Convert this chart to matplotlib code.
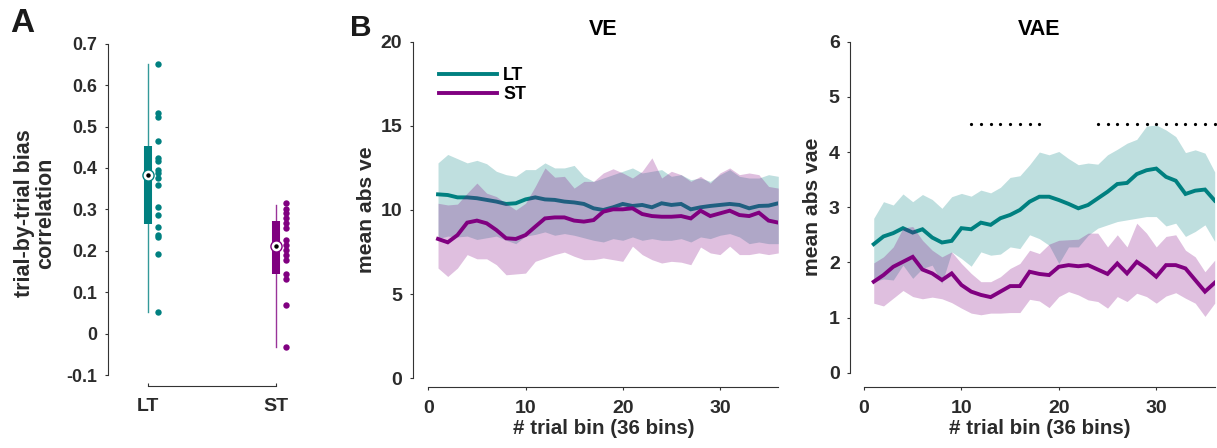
import numpy as np
import matplotlib
matplotlib.use("Agg")
import matplotlib.pyplot as plt

plt.rcParams['font.family'] = ['Liberation Sans', 'DejaVu Sans']
plt.rcParams['font.weight'] = 'bold'
plt.rcParams['axes.labelweight'] = 'bold'

TEAL = '#008080'
PURPLE = '#800080'
TXT = '#2b2b2b'

# ---------------- data ----------------
groups = ['LT', 'ST']
lt_corr = [0.652, 0.533, 0.524, 0.466, 0.425, 0.417, 0.395, 0.387, 0.375, 0.36,
           0.306, 0.286, 0.258, 0.238, 0.234, 0.191, 0.053]
st_corr = [0.3145, 0.302, 0.29, 0.278, 0.266, 0.254, 0.226, 0.214, 0.202, 0.19,
           0.178, 0.145, 0.131, 0.069, -0.032]
lt_box = dict(q1=0.265, med=0.383, q3=0.454, lo=0.051, hi=0.652)
st_box = dict(q1=0.144, med=0.211, q3=0.273, lo=-0.032, hi=0.31)
a_yticks = [-0.1, 0, 0.1, 0.2, 0.3, 0.4, 0.5, 0.6, 0.7]
a_yticklabels = ['-0.1', '0', '0.1', '0.2', '0.3', '0.4', '0.5', '0.6', '0.7']

bins = np.arange(1, 37)

ve_lt = [10.93, 10.89, 10.75, 10.75, 10.7, 10.6, 10.5, 10.36, 10.4, 10.63, 10.75, 10.63,
         10.6, 10.5, 10.45, 10.36, 10.1, 10.0, 10.16, 10.36, 10.24, 10.3, 10.16, 10.4,
         10.3, 10.36, 10.04, 10.16, 10.24, 10.3, 10.36, 10.3, 10.1, 10.24, 10.26, 10.4]
ve_lt_hi = [12.8, 13.3, 13.05, 12.8, 12.95, 12.75, 12.3, 12.1, 12.0, 12.4, 12.4, 12.8,
            12.5, 12.5, 12.65, 12.0, 11.7, 11.9, 12.1, 12.3, 12.5, 12.2, 12.3, 12.4,
            12.0, 12.1, 11.8, 11.9, 11.7, 12.1, 12.4, 12.0, 11.9, 11.9, 12.1, 12.0]
ve_lt_lo = [8.3, 8.45, 8.4, 8.45, 8.25, 8.35, 8.45, 8.2, 8.0, 8.45, 8.55, 8.7,
            8.5, 8.6, 8.5, 8.35, 8.2, 8.1, 8.3, 8.2, 8.4, 8.2, 8.3, 8.2,
            8.2, 8.3, 8.1, 8.4, 8.3, 8.5, 8.6, 8.4, 8.0, 8.1, 8.0, 8.0]
ve_st = [8.28, 8.08, 8.51, 9.25, 9.37, 9.21, 8.81, 8.32, 8.28, 8.51, 9.01, 9.5,
         9.56, 9.56, 9.37, 9.31, 9.4, 9.9, 10.04, 10.04, 10.1, 9.76, 9.64, 9.6,
         9.6, 9.64, 9.5, 9.96, 9.64, 9.8, 9.96, 9.7, 9.64, 9.84, 9.37, 9.25]
ve_st_hi = [10.4, 10.3, 10.35, 11.0, 11.6, 11.0, 10.8, 10.4, 10.0, 10.4, 11.4, 12.5,
            11.95, 12.0, 11.3, 11.7, 11.7, 12.2, 12.45, 12.2, 11.9, 12.3, 13.1, 11.9,
            12.3, 12.1, 11.7, 12.0, 11.6, 12.2, 12.5, 12.1, 12.2, 12.1, 11.4, 11.3]
ve_st_lo = [6.55, 6.05, 6.55, 7.35, 7.1, 7.1, 6.75, 6.15, 6.2, 6.25, 6.95, 7.15,
            7.35, 7.5, 7.25, 7.05, 7.05, 7.15, 7.05, 6.95, 7.85, 7.35, 7.05, 6.85,
            6.95, 6.9, 6.75, 7.8, 7.45, 7.35, 7.85, 7.35, 7.35, 7.45, 7.35, 7.45]

vae_lt = [2.33, 2.47, 2.53, 2.62, 2.54, 2.60, 2.45, 2.36, 2.39, 2.62, 2.60, 2.72,
          2.68, 2.80, 2.86, 2.95, 3.10, 3.19, 3.19, 3.13, 3.06, 2.98, 3.04, 3.16,
          3.28, 3.42, 3.44, 3.60, 3.67, 3.70, 3.55, 3.48, 3.24, 3.30, 3.32, 3.12]
vae_lt_hi = [2.80, 3.10, 3.04, 3.24, 3.10, 3.23, 3.14, 2.98, 3.19, 3.25, 3.20, 3.31,
             3.26, 3.36, 3.54, 3.57, 3.77, 4.00, 3.95, 4.01, 3.88, 3.77, 3.80, 3.78,
             3.95, 4.05, 4.16, 4.23, 4.47, 4.49, 4.40, 4.28, 3.99, 4.04, 3.98, 3.64]
vae_lt_lo = [1.65, 1.70, 1.68, 1.95, 1.71, 1.89, 1.95, 1.62, 2.19, 2.07, 1.93, 2.19,
             2.13, 2.15, 2.28, 2.25, 2.50, 2.43, 2.31, 1.98, 2.28, 2.28, 2.49, 2.62,
             2.68, 2.74, 2.77, 2.80, 2.83, 2.83, 2.66, 2.71, 2.47, 2.56, 2.68, 2.38]
vae_st = [1.65, 1.77, 1.92, 2.01, 2.10, 1.87, 1.80, 1.68, 1.80, 1.59, 1.47, 1.41,
          1.37, 1.47, 1.57, 1.57, 1.83, 1.79, 1.77, 1.92, 1.95, 1.93, 1.95, 1.87,
          1.79, 1.98, 1.80, 2.01, 1.89, 1.74, 1.95, 1.95, 1.89, 1.68, 1.47, 1.63]
vae_st_hi = [1.99, 2.10, 2.28, 2.62, 2.65, 2.40, 2.22, 2.10, 2.19, 1.98, 1.80, 1.65,
             1.65, 1.74, 1.89, 1.98, 2.22, 2.16, 2.33, 2.40, 2.41, 2.42, 2.53, 2.53,
             2.28, 2.50, 2.28, 2.71, 2.53, 2.28, 2.47, 2.50, 2.22, 2.10, 1.83, 2.04]
vae_st_lo = [1.26, 1.21, 1.35, 1.49, 1.38, 1.34, 1.37, 1.34, 1.27, 1.17, 1.08, 1.05,
             1.08, 1.08, 1.09, 1.09, 1.33, 1.30, 1.18, 1.38, 1.47, 1.41, 1.32, 1.29,
             1.17, 1.38, 1.29, 1.44, 1.38, 1.26, 1.39, 1.45, 1.35, 1.26, 1.02, 1.26]
vae_sig_bins = list(range(11, 19)) + list(range(24, 37))
vae_sig_y = 4.5

# ---------------- figure ----------------
W, H = 1217, 448
fig = plt.figure(figsize=(W / 100, H / 100), dpi=100)


def px_axes(x0, x1, ytop, ybot):
    return fig.add_axes([x0 / W, 1 - ybot / H, (x1 - x0) / W, (ybot - ytop) / H])


def style(ax, left_out, bottom_out, fs):
    for s in ['top', 'right']:
        ax.spines[s].set_visible(False)
    for s in ['left', 'bottom']:
        ax.spines[s].set_color('#333333')
        ax.spines[s].set_linewidth(0.8)
    ax.spines['left'].set_position(('outward', left_out))
    ax.spines['bottom'].set_position(('outward', bottom_out))
    ax.tick_params(direction='out', length=2.5, width=0.8, color='#333333',
                   labelcolor=TXT, labelsize=fs)
    ax.tick_params(axis='y', pad=5.0)
    ax.tick_params(axis='x', pad=7)
    for lab in ax.get_xticklabels() + ax.get_yticklabels():
        lab.set_fontweight('bold')

# ----- Panel A -----
axA = px_axes(108, 314.5, 43.7, 375)
axA.set_xlim(0.69, 2.3)
axA.set_ylim(-0.1, 0.7)
cols = [TEAL, PURPLE]
boxes = [lt_box, st_box]
pts = [lt_corr, st_corr]
for i, (b, c, p) in enumerate(zip(boxes, cols, pts)):
    xpos = i + 1
    axA.plot([xpos, xpos], [b['lo'], b['hi']], color=c, lw=1.0, alpha=0.8, zorder=1)
    axA.plot([xpos, xpos], [b['q1'], b['q3']], color=c, lw=5.8, solid_capstyle='butt', zorder=2)
    axA.plot(np.full(len(p), xpos + 0.077), p, 'o', color=c, ms=4.6, mec='none', zorder=3)
    axA.plot([xpos], [b['med']], 'o', ms=8, mfc='white', mec=c, mew=1.0, zorder=4)
    axA.plot([xpos], [b['med']], 'o', ms=2.2, color='black', zorder=5)
axA.set_xticks([1, 2])
axA.set_xticklabels(groups)
axA.set_yticks(a_yticks)
axA.set_yticklabels(a_yticklabels)
style(axA, 0, 7.9, 14.0)
axA.tick_params(axis='y', labelsize=12.8)
axA.tick_params(axis='x', direction='in', length=2.5, pad=9)
axA.spines['bottom'].set_bounds(1, 2)
axA.spines['left'].set_bounds(-0.1, 0.7)
fig.text(35 / W, 1 - 213 / H, 'trial-by-trial bias\ncorrelation', rotation=90,
         ha='center', va='center', fontsize=15.5, fontweight='bold', color=TXT,
         linespacing=1.0)


def band_panel(ax, lt, lt_lo, lt_hi, st, st_lo, st_hi):
    ax.fill_between(bins, lt_lo, lt_hi, color=TEAL, alpha=0.25, lw=0, zorder=1)
    ax.plot(bins, lt, color=TEAL, lw=2.8, zorder=2, label='LT', solid_joinstyle='miter')
    ax.fill_between(bins, st_lo, st_hi, color=PURPLE, alpha=0.25, lw=0, zorder=3)
    ax.plot(bins, st, color=PURPLE, lw=2.8, zorder=4, label='ST', solid_joinstyle='miter')
    ax.set_xlim(0, 36)
    ax.set_xticks([0, 10, 20, 30])

# ----- Panel B: VE -----
axV = px_axes(428.3, 778.3, 41.7, 378.3)
band_panel(axV, ve_lt, ve_lt_lo, ve_lt_hi, ve_st, ve_st_lo, ve_st_hi)
axV.set_ylim(0, 20)
axV.set_yticks([0, 5, 10, 15, 20])
style(axV, 11.2, 6.3, 14.0)
axV.spines['left'].set_bounds(0, 20)
axV.spines['bottom'].set_bounds(0, 36)
axV.set_ylabel('mean abs ve', fontsize=15.2, color=TXT, labelpad=3)
axV.set_xlabel('# trial bin (36 bins)', fontsize=14.8, color=TXT, labelpad=1.5)
axV.set_title('VE', fontsize=15.5, fontweight='bold', pad=5)
leg = axV.legend(loc='upper left', bbox_to_anchor=(0.03, 0.924), frameon=False,
                 fontsize=12.8, handlelength=3.3, handletextpad=0.33,
                 labelspacing=0.12, borderpad=0, borderaxespad=0)
for t in leg.get_texts():
    t.set_fontweight('bold')

# ----- Panel B: VAE -----
axE = px_axes(864, 1214.7, 41.7, 372.7)
band_panel(axE, vae_lt, vae_lt_lo, vae_lt_hi, vae_st, vae_st_lo, vae_st_hi)
axE.plot(vae_sig_bins, np.full(len(vae_sig_bins), vae_sig_y), 'o', color='black',
         ms=2.3, mec='none', zorder=6, clip_on=False)
axE.set_ylim(0, 6)
axE.set_yticks([0, 1, 2, 3, 4, 5, 6])
style(axE, 10, 10.3, 14.0)
axE.spines['left'].set_bounds(0, 6)
axE.spines['bottom'].set_bounds(0, 36)
axE.set_ylabel('mean abs vae', fontsize=15.2, color=TXT, labelpad=5)
axE.set_xlabel('# trial bin (36 bins)', fontsize=14.8, color=TXT, labelpad=1.5)
axE.set_title('VAE', fontsize=15.5, fontweight='bold', pad=5)

# panel letters
fig.text(22 / W, 1 - 24 / H, 'A', ha='center', va='center', fontsize=24,
         fontweight='bold', color='#1a1a1a')
fig.text(360.5 / W, 1 - 27.5 / H, 'B', ha='center', va='center', fontsize=21.5,
         fontweight='bold', color='#1a1a1a')

fig.savefig('out.png', dpi=100)
